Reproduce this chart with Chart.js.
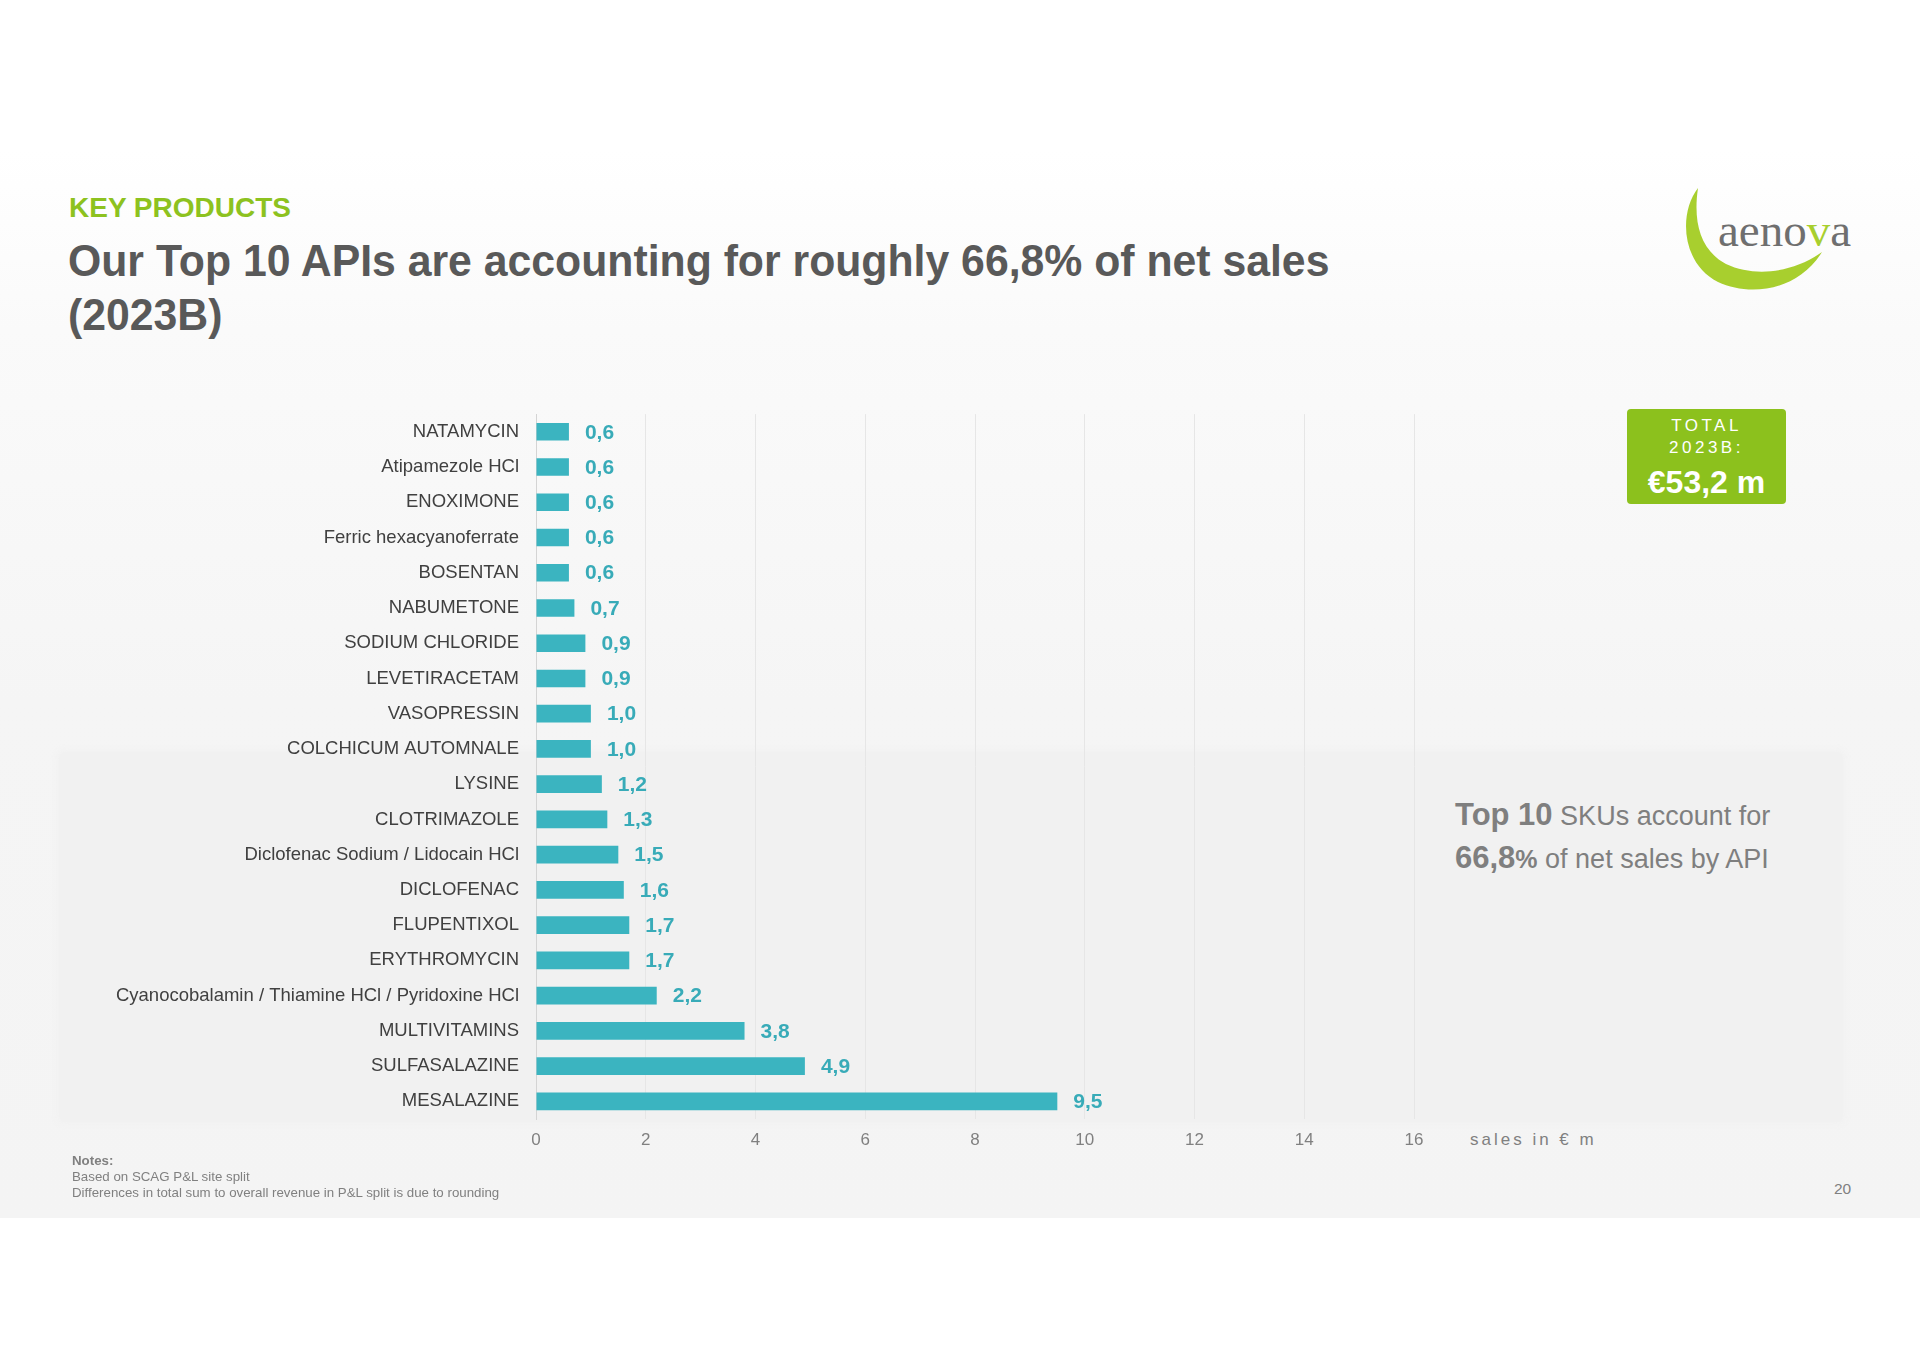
<!DOCTYPE html>
<html>
<head>
<meta charset="utf-8">
<script src="https://cdn.jsdelivr.net/npm/chart.js@4.4.0/dist/chart.umd.min.js"></script>
<style>
  html, body { margin: 0; padding: 0; }
  body {
    width: 1920px; height: 1358px; position: relative; overflow: hidden;
    font-family: "Liberation Sans", Arial, sans-serif;
    background: #fff;
  }
  .slide {
    position: absolute; left: 0; top: 0; width: 1920px; height: 1218px;
    background: linear-gradient(to bottom, #ffffff 0px, #ffffff 150px, #fafafa 330px, #f5f5f5 700px, #f4f4f4 1218px);
  }
  .panel {
    position: absolute; left: 59px; top: 752px; width: 1784px; height: 370px;
    background: #f1f1f1; border-radius: 6px;
    box-shadow: 0 0 6px 2px rgba(241,241,241,0.9);
  }
  .abs { position: absolute; white-space: nowrap; }
  #kicker { left: 69px; top: 190px; font-size: 28px; line-height: 36px; font-weight: bold; color: #8dc21f; }
  #title {
    left: 68px; top: 234px; font-size: 45px; line-height: 54px; font-weight: bold; color: #595959;
    transform: scaleX(0.95); transform-origin: 0 0;
  }
  #total {
    position: absolute; left: 1627px; top: 409px; width: 159px; height: 95px;
    background: #8cc11d; border-radius: 4px; color: #fff; text-align: center;
  }
  #total .l { position: absolute; left: 0; width: 100%; }
  #side { left: 1455px; top: 794px; font-size: 27px; line-height: 42px; color: #7f7f7f; }
  #side b { font-size: 31px; }
  #side b.pct { font-size: 25px; }
  #unit { left: 1470px; top: 1129px; font-size: 17px; line-height: 22px; color: #808080; letter-spacing: 3px; }
  #notes { left: 72px; top: 1153px; font-size: 13.3px; line-height: 16px; color: #808080; }
  #page { left: 1834px; top: 1179px; font-size: 15.5px; line-height: 20px; color: #808080; }
  #chartBox { position: absolute; left: 100px; top: 386px; width: 1340px; height: 784px; }
  #logo { position: absolute; left: 0; top: 0; }
</style>
</head>
<body>
<div class="slide"></div>
<div class="panel"></div>

<div id="kicker" class="abs">KEY PRODUCTS</div>
<div id="title" class="abs">Our Top 10 APIs are accounting for roughly 66,8% of net sales<br>(2023B)</div>

<svg id="logo" width="1920" height="320">
  <path d="M1698,188 C1678,214 1682,264 1718,282 C1750,297 1798,291 1822,252 C1794,272 1756,278 1726,264 C1700,250 1693,222 1698,188 Z" fill="#a8cf2e"/>
  <text x="1718" y="246" font-family="Liberation Serif, 'DejaVu Serif', serif" font-size="47" fill="#6f6f6f">aeno<tspan fill="#a8cf2e">v</tspan>a</text>
</svg>

<div id="total">
  <div class="l" style="top:7px;font-size:17px;line-height:20px;letter-spacing:3.5px;">TOTAL</div>
  <div class="l" style="top:29px;font-size:17px;line-height:20px;letter-spacing:3.5px;">2023B:</div>
  <div class="l" style="top:55px;font-size:32px;line-height:36px;font-weight:bold;">€53,2 m</div>
</div>

<div id="side" class="abs"><b>Top 10</b> SKUs account for<br><b>66,8</b><b class="pct">%</b> of net sales by API</div>

<div id="chartBox"><canvas id="bars"></canvas></div>
<div id="unit" class="abs">sales in € m</div>

<div id="notes" class="abs"><b>Notes:</b><br>Based on SCAG P&amp;L site split<br>Differences in total sum to overall revenue in P&amp;L split is due to rounding</div>
<div id="page" class="abs">20</div>

<script>
const products = [
  'NATAMYCIN', 'Atipamezole HCl', 'ENOXIMONE', 'Ferric hexacyanoferrate', 'BOSENTAN',
  'NABUMETONE', 'SODIUM CHLORIDE', 'LEVETIRACETAM', 'VASOPRESSIN', 'COLCHICUM AUTOMNALE',
  'LYSINE', 'CLOTRIMAZOLE', 'Diclofenac Sodium / Lidocain HCl', 'DICLOFENAC', 'FLUPENTIXOL',
  'ERYTHROMYCIN', 'Cyanocobalamin / Thiamine HCl / Pyridoxine HCl', 'MULTIVITAMINS', 'SULFASALAZINE', 'MESALAZINE'
]
const sales = [0.6, 0.6, 0.6, 0.6, 0.6, 0.7, 0.9, 0.9, 1.0, 1.0, 1.2, 1.3, 1.5, 1.6, 1.7, 1.7, 2.2, 3.8, 4.9, 9.5]
const xTicks = [0, 2, 4, 6, 8, 10, 12, 14, 16]

const barColor = '#3bb4c0'
const labelColor = '#38abb8'

Chart.defaults.font.family = '"Liberation Sans", Arial, sans-serif'

// value labels next to each bar, decimal comma like the slide
const valueLabels = {
  id: 'valueLabels',
  afterDatasetsDraw(chart) {
    const ctx = chart.ctx
    const meta = chart.getDatasetMeta(0)
    ctx.save()
    ctx.font = 'bold 21px "Liberation Sans", Arial, sans-serif'
    ctx.fillStyle = labelColor
    ctx.textAlign = 'left'
    ctx.textBaseline = 'middle'
    meta.data.forEach((bar, i) => {
      ctx.fillText(sales[i].toFixed(1).replace('.', ','), bar.x + 16, bar.y + 1)
    })
    ctx.restore()
  }
}

new Chart(document.getElementById('bars'), {
  type: 'bar',
  data: {
    labels: products,
    datasets: [{
      data: sales,
      backgroundColor: barColor,
      borderWidth: 0,
      barPercentage: 0.5,
      categoryPercentage: 1
    }]
  },
  options: {
    indexAxis: 'y',
    responsive: true,
    maintainAspectRatio: false,
    animation: false,
    layout: { padding: { top: 0, right: 26, bottom: 0, left: 0 } },
    plugins: { legend: { display: false }, tooltip: { enabled: false } },
    scales: {
      x: {
        min: 0,
        max: 16,
        afterBuildTicks(scale) { scale.ticks = xTicks.map(v => ({ value: v })) },
        afterFit(scale) { scale.height = 51 },
        grid: { color: '#e6e6e6', lineWidth: 1, drawTicks: false },
        border: { display: false },
        ticks: { color: '#808080', font: { size: 17 }, padding: 11 }
      },
      y: {
        afterFit(scale) { scale.width = 436 },
        grid: { display: false, drawTicks: false },
        border: { display: true, color: '#d4d4d4', width: 1 },
        ticks: { color: '#404040', font: { size: 18.5 }, padding: 17, autoSkip: false }
      }
    }
  },
  plugins: [valueLabels]
})
</script>
</body>
</html>
